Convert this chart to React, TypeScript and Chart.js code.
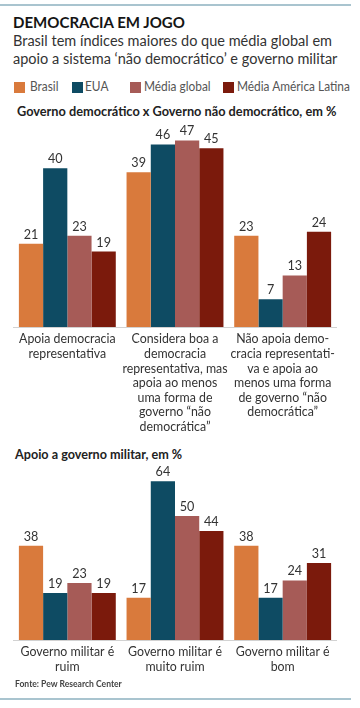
import React, { useEffect, useRef } from "react";
import { Chart, registerables } from "chart.js";

Chart.register(...registerables);

const seriesNames = ["Brasil", "EUA", "Média global", "Média América Latina"];
const seriesColors = ["#D97A3C", "#0E4B63", "#A65B57", "#7B1A0C"];

const categories1: string[][] = [
  ["Apoia democracia", "representativa"],
  ["Considera boa a", "democracia", "representativa, mas", "apoia ao menos", "uma forma de", "governo “não", "democrática”"],
  ["Não apoia demo-", "cracia representati-", "va e apoia ao", "menos uma forma", "de governo “não", "democrática”"],
];
const brasil1 = [21, 39, 23];
const eua1 = [40, 46, 7];
const global1 = [23, 47, 13];
const latam1 = [19, 45, 24];

const categories2: string[][] = [
  ["Governo militar é", "ruim"],
  ["Governo militar é", "muito ruim"],
  ["Governo militar é", "bom"],
];
const brasil2 = [38, 17, 38];
const eua2 = [19, 64, 17];
const global2 = [23, 50, 24];
const latam2 = [19, 44, 31];

const FONT = "Lato, 'Noto Sans', sans-serif";

function drawCondensed(ctx: CanvasRenderingContext2D, text: string, x: number, y: number, sx: number) {
  ctx.save();
  ctx.translate(x, y);
  ctx.scale(sx, 1);
  ctx.fillText(text, 0, 0);
  ctx.restore();
}

const labelsPlugin = {
  id: "labelsPlugin",
  afterDatasetsDraw(chart: any) {
    const ctx = chart.ctx as CanvasRenderingContext2D;
    ctx.save();
    ctx.fillStyle = "#333";
    ctx.textAlign = "center";
    ctx.textBaseline = "alphabetic";
    // values above bars
    ctx.font = `14px ${FONT}`;
    chart.data.datasets.forEach((ds: any, i: number) => {
      const meta = chart.getDatasetMeta(i);
      meta.data.forEach((bar: any, j: number) => {
        drawCondensed(ctx, String(ds.data[j]), bar.x, bar.y - 5, 0.9);
      });
    });
    // category labels
    const xScale = chart.scales.x;
    const base = chart.chartArea.bottom;
    ctx.font = `13px ${FONT}`;
    (chart.data.labels as string[][]).forEach((lines, i) => {
      const x = xScale.getPixelForValue(i);
      lines.forEach((line, k) => {
        drawCondensed(ctx, line, x, base + 16.3 + k * 14.6, 0.95);
      });
    });
    ctx.restore();
  },
};

type BlockProps = {
  labels: string[][];
  series: number[][];
  max: number;
  top: number;
  padTop: number;
  plotH: number;
  axisH: number;
};

function BarBlock({ labels, series, max, top, padTop, plotH, axisH }: BlockProps) {
  const ref = useRef<HTMLCanvasElement | null>(null);
  const height = padTop + plotH + axisH;
  useEffect(() => {
    if (!ref.current) return;
    const chart = new Chart(ref.current, {
      type: "bar",
      data: {
        labels,
        datasets: series.map((d, i) => ({
          label: seriesNames[i],
          data: d,
          backgroundColor: seriesColors[i],
          borderWidth: 0,
          categoryPercentage: 0.9,
          barPercentage: 1.0,
        })),
      },
      options: {
        animation: false,
        responsive: false,
        maintainAspectRatio: false,
        layout: { padding: { top: padTop, left: 13.5, right: 23.5, bottom: 0 } },
        plugins: { legend: { display: false }, tooltip: { enabled: false } },
        scales: {
          y: { display: false, min: 0, max },
          x: {
            grid: { display: false },
            border: { display: true, color: "#d2d2d2", width: 1 },
            ticks: { display: false },
            afterFit: (scale: any) => {
              scale.height = axisH;
            },
          },
        },
      },
      plugins: [labelsPlugin],
    });
    return () => chart.destroy();
  }, []);
  return (
    <canvas
      ref={ref}
      width={360}
      height={height}
      style={{ position: "absolute", left: 0, top, width: 360, height }}
    />
  );
}

function Txt({ left, top, size, weight, color, sx, children }: { left: number; top: number; size: number; weight?: number; color: string; sx: number; children: React.ReactNode }) {
  return (
    <div
      style={{
        position: "absolute",
        left,
        top,
        whiteSpace: "nowrap",
        fontFamily: FONT,
        fontSize: size,
        fontWeight: weight || 400,
        color,
        lineHeight: 1.15,
        transform: `scaleX(${sx})`,
        transformOrigin: "left top",
      }}
    >
      {children}
    </div>
  );
}

export default function App() {
  useEffect(() => {
    document.body.style.margin = "0";
  }, []);
  const legendX = [14, 72, 130, 223];
  const legendTextX = [30, 85, 144, 237];
  return (
    <div style={{ position: "relative", width: 360, height: 708, background: "#fff", overflow: "hidden" }}>
      <div style={{ position: "absolute", left: 0, top: 4, width: 351, height: 2, background: "#A9C4CF" }} />
      <Txt left={13} top={14.4} size={15.5} weight={700} color="#151515" sx={0.97}>DEMOCRACIA EM JOGO</Txt>
      <Txt left={13} top={33} size={14.5} color="#333" sx={1}>Brasil tem índices maiores do que média global em</Txt>
      <Txt left={13} top={51} size={14.5} color="#333" sx={1}>apoio a sistema ‘não democrático’ e governo militar</Txt>
      {seriesNames.map((n, i) => (
        <React.Fragment key={n}>
          <div style={{ position: "absolute", left: legendX[i], top: 82, width: 11, height: 11, background: seriesColors[i] }} />
          <Txt left={legendTextX[i]} top={79.3} size={13.5} color="#555" sx={0.88}>{n}</Txt>
        </React.Fragment>
      ))}
      <Txt left={17} top={103.5} size={13} weight={700} color="#222" sx={0.98}>Governo democrático x Governo não democrático, em %</Txt>
      <BarBlock
        labels={categories1}
        series={[brasil1, eua1, global1, latam1]}
        max={50}
        top={118}
        padTop={10.5}
        plotH={198.5}
        axisH={115}
      />
      <Txt left={15} top={447} size={13} weight={700} color="#222" sx={0.97}>Apoio a governo militar, em %</Txt>
      <BarBlock
        labels={categories2}
        series={[brasil2, eua2, global2, latam2]}
        max={70}
        top={462}
        padTop={4.4}
        plotH={173.6}
        axisH={40}
      />
      <Txt left={15} top={679.2} size={9.5} weight={700} color="#444" sx={0.9}>Fonte: Pew Research Center</Txt>
      <div style={{ position: "absolute", left: 0, top: 698, width: 351, height: 2, background: "#A9C4CF" }} />
    </div>
  );
}
